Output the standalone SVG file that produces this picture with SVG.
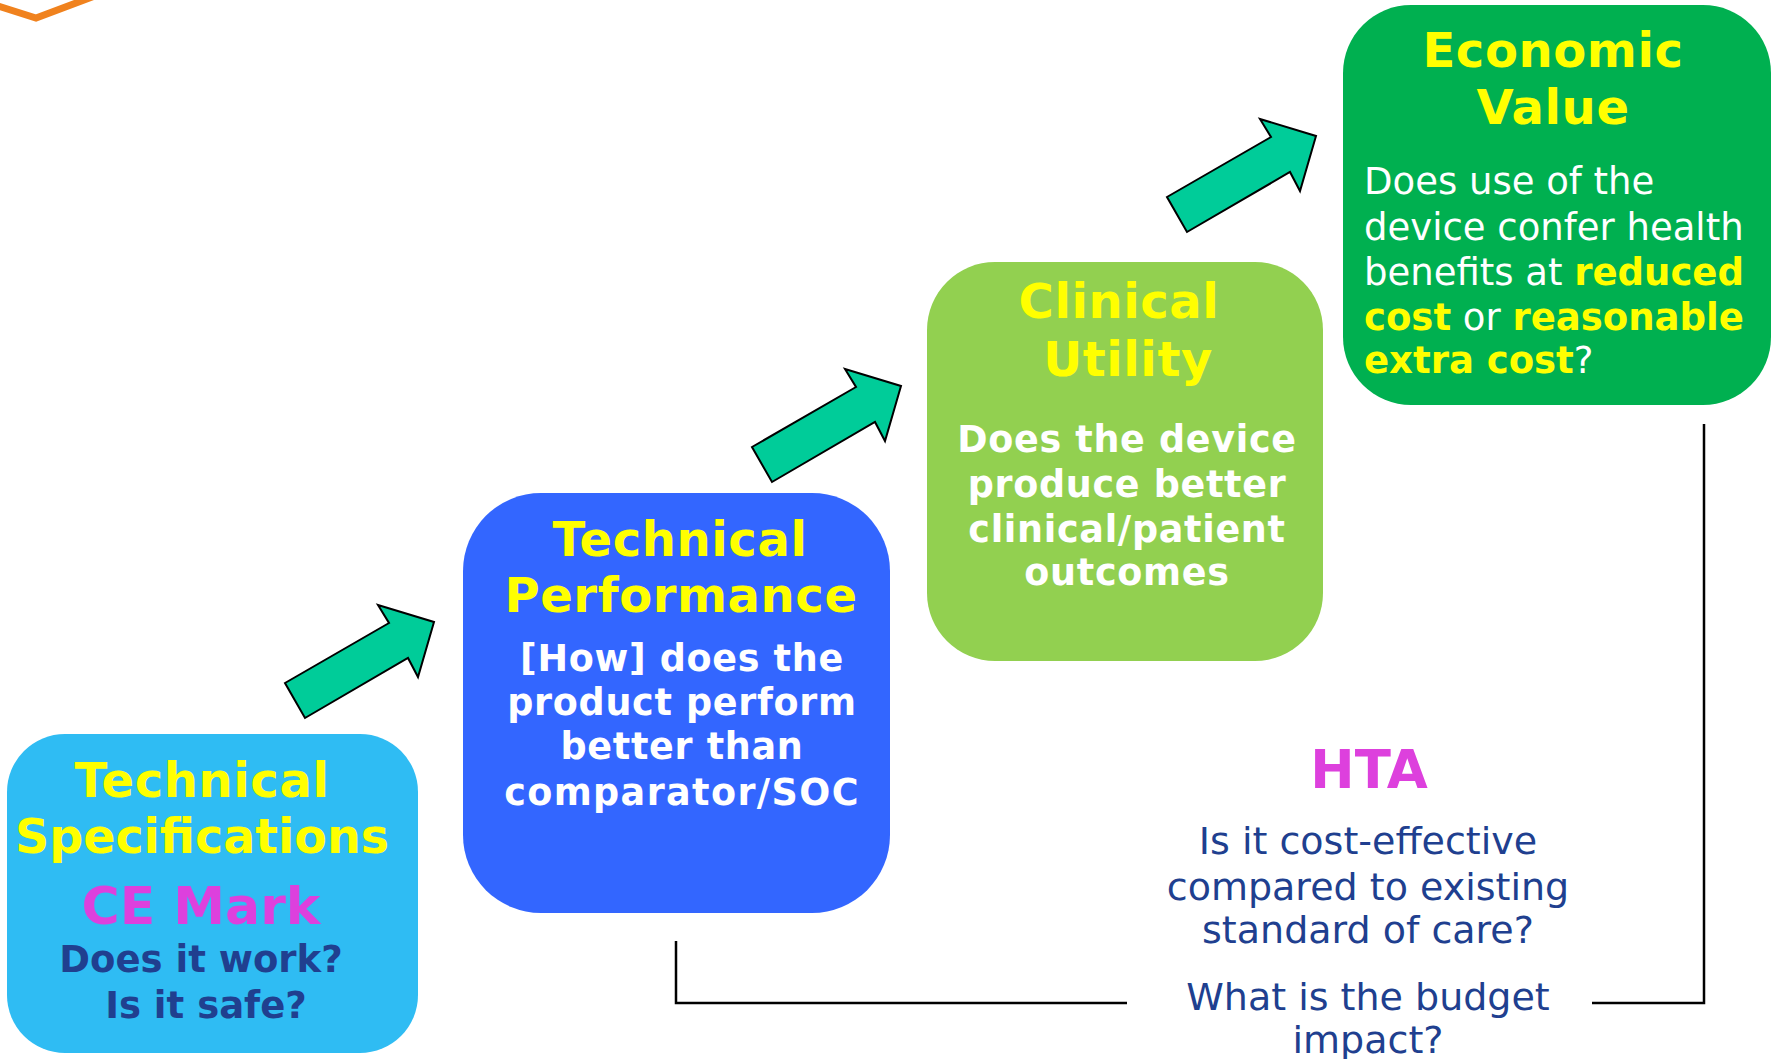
<svg xmlns="http://www.w3.org/2000/svg" width="1775" height="1059" viewBox="0 0 1775 1059">
<style>
text{font-family:"DejaVu Sans","Verdana",sans-serif}
.t{font-weight:bold;font-size:48px;letter-spacing:0.6px;fill:#FFFF00;text-anchor:middle}
.wb{font-weight:bold;font-size:36.5px;letter-spacing:0.7px;fill:#FFFFFF;text-anchor:middle}
.w{font-size:37px;fill:#FFFFFF}
.y{font-weight:bold;fill:#FFFF00}
.db{font-weight:bold;font-size:37px;fill:#203F8F;text-anchor:middle}
.hb{font-size:38px;fill:#203F8F;text-anchor:middle}
.mg{font-weight:bold;fill:#DD40DD;text-anchor:middle}
.arr{fill:#00CC99;stroke:#000;stroke-width:2;stroke-linejoin:miter}
.ln{fill:none;stroke:#000;stroke-width:2.5}
</style>
<defs>
<path id="arrow" d="M0,0 L104,-60 L93,-78 L149,-61 L133,-6 L123,-25 L20,35 Z"/>
</defs>
<rect width="1775" height="1059" fill="#FFFFFF"/>
<polyline points="-2,6 36,18 100,-6" fill="none" stroke="#F0821E" stroke-width="7"/>

<g id="connectors">
<polyline class="ln" points="676,941 676,1003 1127,1003"/>
<polyline class="ln" points="1592,1003 1704,1003 1704,424"/>
<use href="#arrow" class="arr" transform="translate(285,683)"/>
<use href="#arrow" class="arr" transform="translate(752,447)"/>
<use href="#arrow" class="arr" transform="translate(1167,197)"/>
</g>

<g id="tech-spec">
<rect x="7" y="734" width="411" height="319" rx="58" fill="#2FBCF3"/>
<text class="t" x="202" y="797">Technical</text>
<text class="t" x="202" y="853" style="font-size:47.5px;letter-spacing:0px">Specifications</text>
<text class="mg" x="201" y="924" font-size="52">CE Mark</text>
<text class="db" x="201" y="972">Does it work?</text>
<text class="db" x="206" y="1018">Is it safe?</text>
</g>

<g id="tech-perf">
<rect x="463" y="493" width="427" height="420" rx="78" fill="#3366FF"/>
<text class="t" x="680" y="556">Technical</text>
<text class="t" x="681" y="612">Performance</text>
<text class="wb" x="682" y="671">[How] does the</text>
<text class="wb" x="682" y="715">product perform</text>
<text class="wb" x="682" y="759">better than</text>
<text class="wb" x="682" y="805" style="letter-spacing:1.4px">comparator/SOC</text>
</g>

<g id="clinical">
<rect x="927" y="262" width="396" height="399" rx="68" fill="#92D050"/>
<text class="t" x="1119" y="318">Clinical</text>
<text class="t" x="1128" y="376">Utility</text>
<text class="wb" x="1127" y="452">Does the device</text>
<text class="wb" x="1127" y="497">produce better</text>
<text class="wb" x="1127" y="542">clinical/patient</text>
<text class="wb" x="1127" y="585">outcomes</text>
</g>

<g id="economic">
<rect x="1343" y="5" width="428" height="400" rx="68" fill="#00B050"/>
<text class="t" x="1553" y="67">Economic</text>
<text class="t" x="1553" y="124">Value</text>
<text class="w" x="1364" y="194">Does use of the</text>
<text class="w" x="1364" y="240">device confer health</text>
<text class="w" x="1364" y="285">benefits at <tspan class="y">reduced</tspan></text>
<text class="w" x="1364" y="330"><tspan class="y">cost</tspan> or <tspan class="y">reasonable</tspan></text>
<text class="w" x="1364" y="373"><tspan class="y">extra cost</tspan>?</text>
</g>

<g id="hta">
<text class="mg" x="1369" y="788" font-size="53">HTA</text>
<text class="hb" x="1368" y="854">Is it cost-effective</text>
<text class="hb" x="1368" y="900">compared to existing</text>
<text class="hb" x="1368" y="943">standard of care?</text>
<text class="hb" x="1368" y="1010">What is the budget</text>
<text class="hb" x="1368" y="1053">impact?</text>
</g>
</svg>
